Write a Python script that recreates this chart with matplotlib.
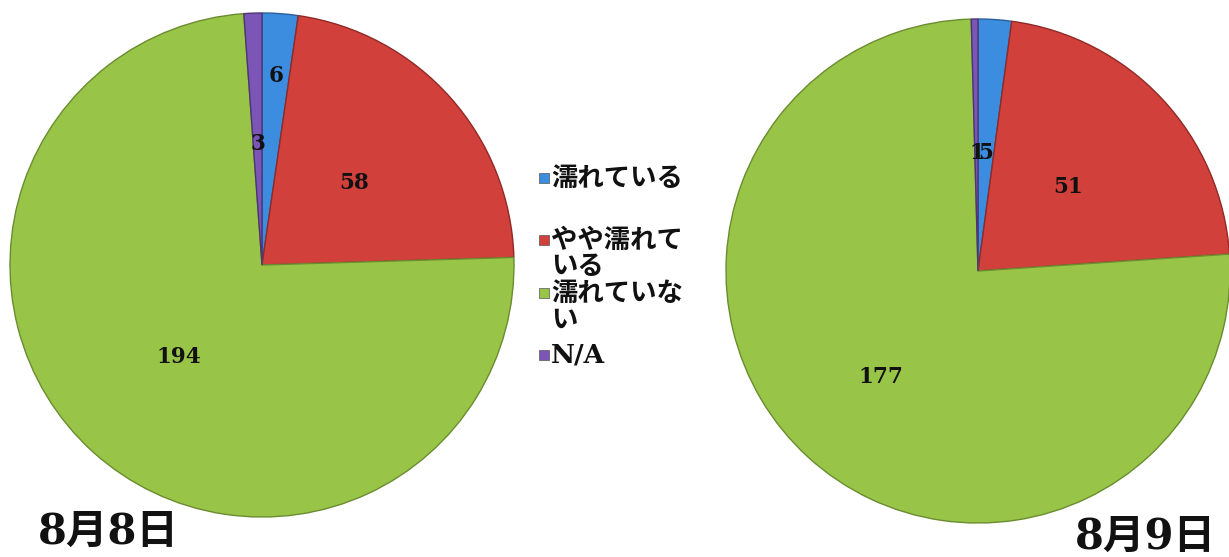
import matplotlib
matplotlib.use("Agg")
import matplotlib.pyplot as plt
import numpy as np
from matplotlib.patches import Rectangle

serif = ['DejaVu Serif', 'Noto Sans CJK JP', 'DejaVu Sans']
plt.rcParams['font.family'] = serif

categories = ["濡れている", "やや濡れている", "濡れていない", "N/A"]
legend_lines = [["濡れている"], ["やや濡れて", "いる"], ["濡れていな", "い"], ["N/A"]]
aug8_values = [6, 58, 194, 3]
aug9_values = [5, 51, 177, 1]
titles = ["8月8日", "8月9日"]

colors = ["#3C8DDF", "#D2403C", "#98C548", "#7B56B6"]
edge_colors = ["#2a5f99", "#8f2a27", "#6a8c2f", "#4d3475"]

W, H = 1229, 557
fig = plt.figure(figsize=(W / 100, H / 100), dpi=100)


def add_pie(cx, cy, r, values, label_r):
    ax = fig.add_axes([(cx - r) / W, (H - cy - r) / H, 2 * r / W, 2 * r / H])
    wedges, _ = ax.pie(values, colors=colors, startangle=90, counterclock=False,
                       radius=1.0, wedgeprops=dict(linewidth=1.0))
    for w, ec in zip(wedges, edge_colors):
        w.set_edgecolor(ec)
    ax.set_xlim(-1, 1)
    ax.set_ylim(-1, 1)
    ax.set_aspect('equal')
    ax.axis('off')
    for w, v, lr in zip(wedges, values, label_r):
        mid = np.deg2rad((w.theta1 + w.theta2) / 2)
        ax.text(lr * np.cos(mid), lr * np.sin(mid), str(v), ha='center', va='center',
                fontsize=15.5, fontweight='bold', color='#111111')
    return ax


add_pie(262, 265, 252, aug8_values, [0.75, 0.49, 0.49, 0.48])
add_pie(978, 271, 252, aug9_values, [0.47, 0.49, 0.57, 0.47])

# legend
line_y = [[178], [240, 266], [293, 320], [355]]
for lines, col, ys in zip(legend_lines, colors, line_y):
    fig.patches.append(Rectangle((539 / W, (H - ys[0] - 5) / H), 10 / W, 10 / H,
                                 transform=fig.transFigure, facecolor=col,
                                 edgecolor='#555555', linewidth=0.5))
    for txt, y in zip(lines, ys):
        fig.text(551 / W, (H - y) / H, txt, ha='left', va='center', fontsize=19,
                 fontweight='bold', color='#111111')

fig.text(38 / W, (H - 532) / H, titles[0], ha='left', va='center', fontsize=30,
         fontweight='bold', color='#111111')
fig.text(1075 / W, (H - 537) / H, titles[1], ha='left', va='center', fontsize=30,
         fontweight='bold', color='#111111')

fig.savefig("out.png", dpi=100, facecolor='white')
